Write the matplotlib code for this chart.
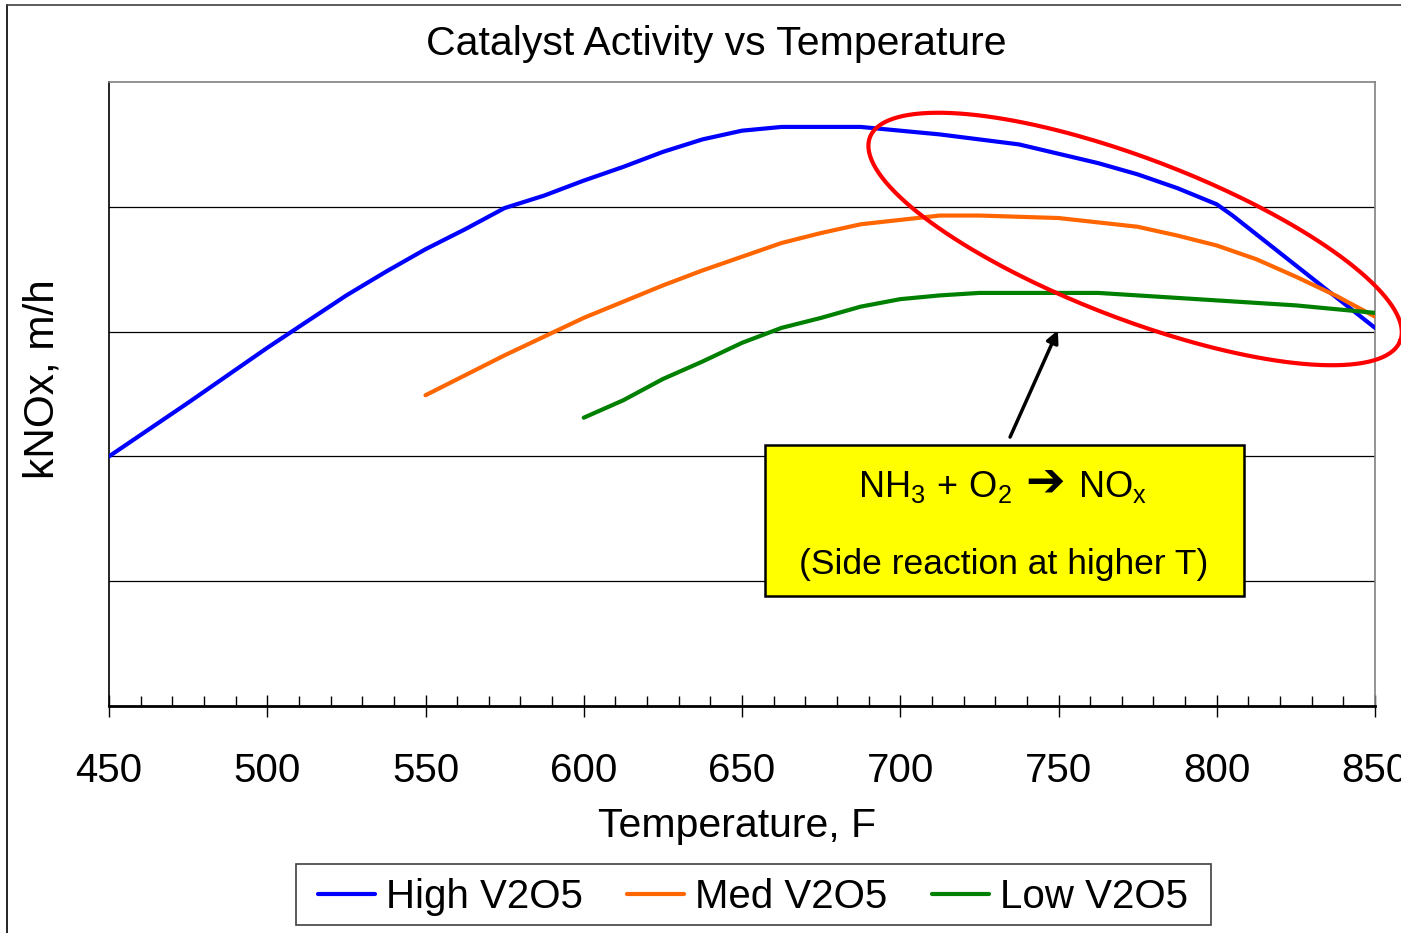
import numpy as np
import matplotlib
matplotlib.use("Agg")
import matplotlib.pyplot as plt
from matplotlib.lines import Line2D
from matplotlib.patches import Rectangle
from matplotlib.ticker import MultipleLocator

plt.rcParams['font.family'] = ['Liberation Sans', 'DejaVu Sans']
plt.rcParams['mathtext.fontset'] = 'custom'
plt.rcParams['mathtext.rm'] = 'Liberation Sans'
plt.rcParams['mathtext.it'] = 'Liberation Sans'

# ---- data ----
temp_high = [450, 475, 500, 525, 537.5, 550, 562.5, 575, 587.5, 600, 612.5, 625, 637.5,
             650, 662.5, 687.5, 712.5, 737.5, 762.5, 775, 787.5, 800, 805, 820, 835, 850]
knox_high = [2.00, 2.43, 2.87, 3.29, 3.48, 3.66, 3.82, 3.99, 4.09, 4.21, 4.32, 4.44, 4.54,
             4.61, 4.64, 4.64, 4.58, 4.50, 4.35, 4.26, 4.15, 4.02, 3.93, 3.63, 3.33, 3.03]

temp_med = [550, 575, 600, 625, 637.5, 650, 662.5, 675, 687.5, 712.5, 725, 750, 775,
            787.5, 800, 812.5, 825, 837.5, 850]
knox_med = [2.49, 2.81, 3.11, 3.37, 3.49, 3.60, 3.71, 3.79, 3.86, 3.93, 3.93, 3.91, 3.84,
            3.77, 3.69, 3.58, 3.44, 3.29, 3.12]

temp_low = [600, 612.5, 625, 637.5, 650, 662.5, 675, 687.5, 700, 712.5, 725, 762.5, 775,
            800, 825, 850]
knox_low = [2.31, 2.45, 2.62, 2.76, 2.91, 3.03, 3.11, 3.20, 3.26, 3.29, 3.31, 3.31, 3.29,
            3.25, 3.21, 3.15]

labels = ["High V2O5", "Med V2O5", "Low V2O5"]
colors = ['#0000FF', '#FF6600', '#008000']

W, H = 1401, 933
fig = plt.figure(figsize=(W / 100, H / 100), dpi=100)
ax = fig.add_axes([109 / W, 1 - 706 / H, 1266 / W, 624 / H])

ax.plot(temp_high, knox_high, color=colors[0], lw=3, solid_capstyle='round', label=labels[0], zorder=3)
ax.plot(temp_med, knox_med, color=colors[1], lw=3, solid_capstyle='round', label=labels[1], zorder=3)
ax.plot(temp_low, knox_low, color=colors[2], lw=3, solid_capstyle='round', label=labels[2], zorder=3)

ax.set_xlim(450, 850)
ax.set_ylim(0, 5)
ax.xaxis.set_major_locator(MultipleLocator(50))
ax.xaxis.set_minor_locator(MultipleLocator(10))
ax.set_yticks([1, 2, 3, 4])
ax.yaxis.grid(True, color='black', lw=0.9)
ax.set_axisbelow(True)
ax.tick_params(axis='y', length=0, labelleft=False)
ax.tick_params(axis='x', which='major', direction='inout', length=16, width=1, labelsize=29, pad=25)
ax.tick_params(axis='x', which='minor', direction='in', length=7, width=1)

ax.spines['left'].set_linewidth(1.2)
ax.spines['bottom'].set_linewidth(2)
for s in ['top', 'right']:
    ax.spines[s].set_color('#808080')
    ax.spines[s].set_linewidth(1.2)

ax.set_xlabel("Temperature, F", fontsize=29.5, va='center')
ax.xaxis.set_label_coords(0.496, -0.1925)
ax.set_ylabel("kNOx, m/h", fontsize=30.5, va='center', ha='center')
ax.yaxis.set_label_coords(-0.0525, 0.524)

fig.text(716 / W, 1 - 44 / H, "Catalyst Activity vs Temperature", fontsize=29.5,
         ha='center', va='center')

# yellow annotation box
ax.add_patch(Rectangle((657.3, 0.88), 151.3, 1.21, facecolor='#FFFF00',
                       edgecolor='black', lw=1.8, zorder=4))
ax.text(735.3, 1.675, r'$\mathrm{NH_3\,+\,O_2}$', fontsize=26, ha='right', va='baseline', zorder=5)
ax.text(745.7, 1.675, '\u2794', fontsize=34, fontfamily='DejaVu Sans', fontweight='bold',
        ha='center', va='baseline', zorder=5)
ax.text(756.2, 1.675, r'$\mathrm{NO_x}$', fontsize=26, ha='left', va='baseline', zorder=5)
ax.text(732.8, 1.058, '(Side reaction at higher T)', fontsize=25.5,
        ha='center', va='baseline', zorder=5)

ax.annotate('', xy=(749.8, 3.01), xytext=(734.7, 2.155),
            arrowprops=dict(arrowstyle='-|>', lw=2.5, color='black', mutation_scale=18,
                            shrinkA=0, shrinkB=0), zorder=5)

# red ellipse around the high-temperature region (size given in pixels)
ell_cx, ell_cy = 774.2, 3.742
ell_a, ell_b, ell_ang = 284, 80, np.radians(21)
sx = 1266 / 400
sy = 624 / 5
t = np.linspace(0, 2 * np.pi, 300)
dx = ell_a * np.cos(t) * np.cos(ell_ang) - ell_b * np.sin(t) * np.sin(ell_ang)
dy = -(ell_a * np.cos(t) * np.sin(ell_ang) + ell_b * np.sin(t) * np.cos(ell_ang))
ax.plot(ell_cx + dx / sx, ell_cy + dy / sy, color='#FF0000', lw=3, clip_on=False, zorder=6)

leg = fig.legend(loc='center', bbox_to_anchor=(753 / W, 1 - 897 / H), ncol=3, fontsize=29,
                 frameon=False, handlelength=1.42, handletextpad=0.27,
                 columnspacing=1.1, borderpad=0.3)
# legend frame
fig.add_artist(Rectangle((296 / W, 1 - 925 / H), 915 / W, 61 / H, transform=fig.transFigure,
                         facecolor='none', edgecolor='#404040', lw=1.2))

# outer chart border (cropped on right/bottom)
fig.add_artist(Line2D([7 / W, 7 / W], [-0.1, 1 - 5 / H], color='black', lw=1.2))
fig.add_artist(Line2D([7 / W, 1.1], [1 - 5 / H, 1 - 5 / H], color='#404040', lw=1.2))

fig.savefig('out.png', dpi=100)
